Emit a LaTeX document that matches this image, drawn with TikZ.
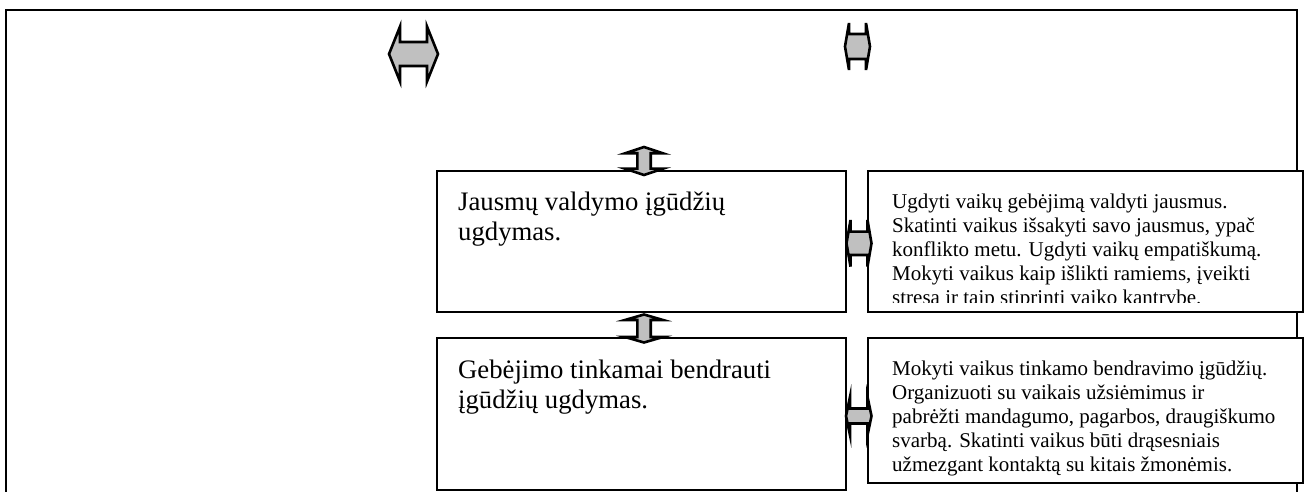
\documentclass[tikz,border=0pt]{standalone}
\usepackage{fontspec}
\setmainfont{Liberation Serif}
\definecolor{arrowgray}{HTML}{C0C0C0}

% left-right block arrow: left tip x, right tip x, centre y, half ear height, half shaft height, head length
\newcommand{\lrblock}[6]{%
  \pgfmathsetmacro{\lrXa}{#1+#6}%
  \pgfmathsetmacro{\lrXb}{#2-#6}%
  \pgfmathsetmacro{\lrYt}{#3-#4}%
  \pgfmathsetmacro{\lrYb}{#3+#4}%
  \pgfmathsetmacro{\lrSt}{#3-#5}%
  \pgfmathsetmacro{\lrSb}{#3+#5}%
  \draw[blockarrow] (#1,#3) -- (\lrXa,\lrYt) -- (\lrXa,\lrSt) -- (\lrXb,\lrSt)
    -- (\lrXb,\lrYt) -- (#2,#3) -- (\lrXb,\lrYb) -- (\lrXb,\lrSb)
    -- (\lrXa,\lrSb) -- (\lrXa,\lrYb) -- cycle;}

% up-down block arrow: centre x, top tip y, bottom tip y, half head width, half shaft width, head length
\newcommand{\udblock}[6]{%
  \pgfmathsetmacro{\udYa}{#2+#6}%
  \pgfmathsetmacro{\udYb}{#3-#6}%
  \pgfmathsetmacro{\udL}{#1-#4}%
  \pgfmathsetmacro{\udR}{#1+#4}%
  \pgfmathsetmacro{\udSl}{#1-#5}%
  \pgfmathsetmacro{\udSr}{#1+#5}%
  \draw[blockarrow] (#1,#2) -- (\udR,\udYa) -- (\udSr,\udYa) -- (\udSr,\udYb)
    -- (\udR,\udYb) -- (#1,#3) -- (\udL,\udYb) -- (\udSl,\udYb)
    -- (\udSl,\udYa) -- (\udL,\udYa) -- cycle;}

\begin{document}
\begin{tikzpicture}[x=1pt,y=-1pt,
  frameline/.style={line width=2pt},
  panel/.style={draw, fill=white, line width=1.9pt, inner sep=0pt},
  blockarrow/.style={draw, fill=arrowgray, line width=2.6pt},
  bigtext/.style={anchor=base west, inner sep=0pt, font=\fontsize{26.7}{30.5}\selectfont},
  smalltext/.style={anchor=base west, inner sep=0pt, font=\fontsize{21}{24.2}\selectfont}]

\useasboundingbox (0,0) rectangle (1307,492);

% open outer frame
\coordinate (fbl) at (6,492);
\coordinate (ftl) at (6,10);
\coordinate (ftr) at (1297,10);
\coordinate (fbr) at (1297,492);
\draw[frameline] (fbl) -- (ftl) -- (ftr) -- (fbr);

% panels
\node[panel, minimum width=409pt, minimum height=141pt] (lb1) at (641.5,241.5) {};
\node[panel, minimum width=409pt, minimum height=152pt] (lb2) at (641.5,414) {};
\node[panel, minimum width=435pt, minimum height=141pt] (rb1) at (1085.5,241.5) {};
\node[panel, minimum width=435pt, minimum height=145pt] (rb2) at (1085.5,410.5) {};

% headings
\node[bigtext] (lt1) at (458,210) {\begin{tabular}[t]{@{}l@{}}Jausmų valdymo įgūdžių\\ugdymas.\end{tabular}};
\node[bigtext] (lt2) at (458,378) {\begin{tabular}[t]{@{}l@{}}Gebėjimo tinkamai bendrauti\\įgūdžių ugdymas.\end{tabular}};

% descriptions
\begin{scope}
  \clip (868,171) rectangle (1303,302.5);
  \node[smalltext] (rt1) at (892,208) {\begin{tabular}[t]{@{}l@{}}Ugdyti vaikų gebėjimą valdyti jausmus.\\Skatinti vaikus išsakyti savo jausmus, ypač\\konflikto metu. Ugdyti vaikų empatiškumą.\\Mokyti vaikus kaip išlikti ramiems, įveikti\\stresą ir taip stiprinti vaiko kantrybę.\end{tabular}};
\end{scope}
\node[smalltext] (rt2) at (892,375) {\begin{tabular}[t]{@{}l@{}}Mokyti vaikus tinkamo bendravimo įgūdžių.\\Organizuoti su vaikais užsiėmimus ir\\pabrėžti mandagumo, pagarbos, draugiškumo\\svarbą. Skatinti vaikus būti drąsesniais\\užmezgant kontaktą su kitais žmonėmis.\end{tabular}};

% block arrows
\lrblock{389}{438}{54}{27.5}{12}{11}
\lrblock{845}{870}{46.5}{23.5}{12.5}{4}
\lrblock{846.5}{871.5}{243.3}{23.3}{11.7}{4}
\lrblock{846}{871.5}{416}{19.2}{7.5}{4}
\udblock{644}{147}{175}{19}{6.7}{6.3}
\udblock{644}{314.5}{342.5}{19}{6.7}{5.5}
\end{tikzpicture}
\end{document}
